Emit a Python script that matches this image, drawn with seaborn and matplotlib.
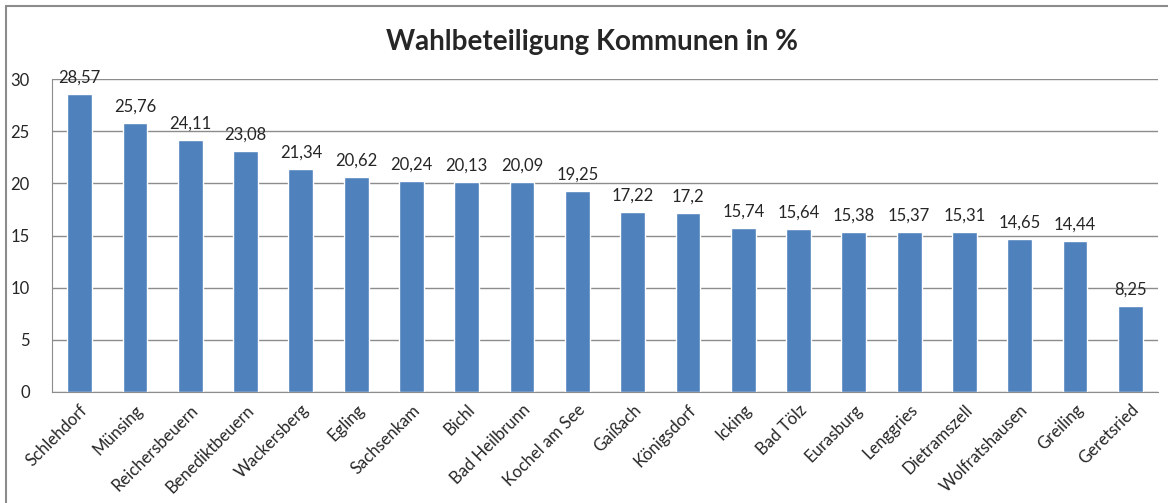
import matplotlib
matplotlib.use("Agg")
import matplotlib.pyplot as plt
from matplotlib.lines import Line2D
import seaborn as sns
import numpy as np

categories = ["Schlehdorf", "Münsing", "Reichersbeuern", "Benediktbeuern", "Wackersberg",
              "Egling", "Sachsenkam", "Bichl", "Bad Heilbrunn", "Kochel am See",
              "Gaißach", "Königsdorf", "Icking", "Bad Tölz", "Eurasburg",
              "Lenggries", "Dietramszell", "Wolfratshausen", "Greiling", "Geretsried"]
values = [28.57, 25.76, 24.11, 23.08, 21.34, 20.62, 20.24, 20.13, 20.09, 19.25,
          17.22, 17.2, 15.74, 15.64, 15.38, 15.37, 15.31, 14.65, 14.44, 8.25]
yticks = [0, 5, 10, 15, 20, 25, 30]
title = "Wahlbeteiligung Kommunen in %"

sns.set_style("white")
plt.rcParams['font.family'] = ['Lato', 'DejaVu Sans']

fig = plt.figure(figsize=(11.68, 5.03), dpi=100)
ax = fig.add_axes([52/1168, 1-392/503, (1158-52)/1168, (392-79)/503])

sns.barplot(x=categories, y=values, color="#4F81BD", saturation=1, width=0.45, ax=ax)

grid_c = "#8C8C8C"
ax.set_ylim(0, 30)
ax.set_xlim(-0.5, len(categories)-0.5)
ax.set_yticks(yticks)
ax.set_yticklabels([str(t) for t in yticks], fontsize=12)
ax.yaxis.grid(True, color=grid_c, linewidth=1)
ax.set_axisbelow(True)
for s in ["top", "right"]:
    ax.spines[s].set_visible(False)
ax.spines["left"].set_color(grid_c)
ax.spines["bottom"].set_color(grid_c)
ax.tick_params(axis="y", which="major", direction="out", length=6, color=grid_c, pad=10, labelsize=12)

ax.set_xticks(np.arange(len(categories)))
ax.set_xticklabels(categories, rotation=45, ha="right", rotation_mode="anchor", fontsize=12)
ax.tick_params(axis="x", which="major", length=0, pad=7)
ax.set_xticks(np.arange(len(categories)+1) - 0.5, minor=True)
ax.tick_params(axis="x", which="minor", direction="out", length=6, color=grid_c)
ax.set_xlabel("")
ax.set_ylabel("")

labels = [str(v).replace(".", ",") for v in values]
ax.bar_label(ax.containers[0], labels=labels, padding=6, fontsize=12)

fig.text(592/1168, 1-42/503, title, ha="center", va="center", fontsize=20, fontweight="bold")

fig.add_artist(Line2D([6/1168, 6/1168], [0, 1-6/503], transform=fig.transFigure, color="#8C8C8C", lw=1.5))
fig.add_artist(Line2D([6/1168, 1], [1-6/503, 1-6/503], transform=fig.transFigure, color="#8C8C8C", lw=1.5))

fig.savefig("out.png", dpi=100)
